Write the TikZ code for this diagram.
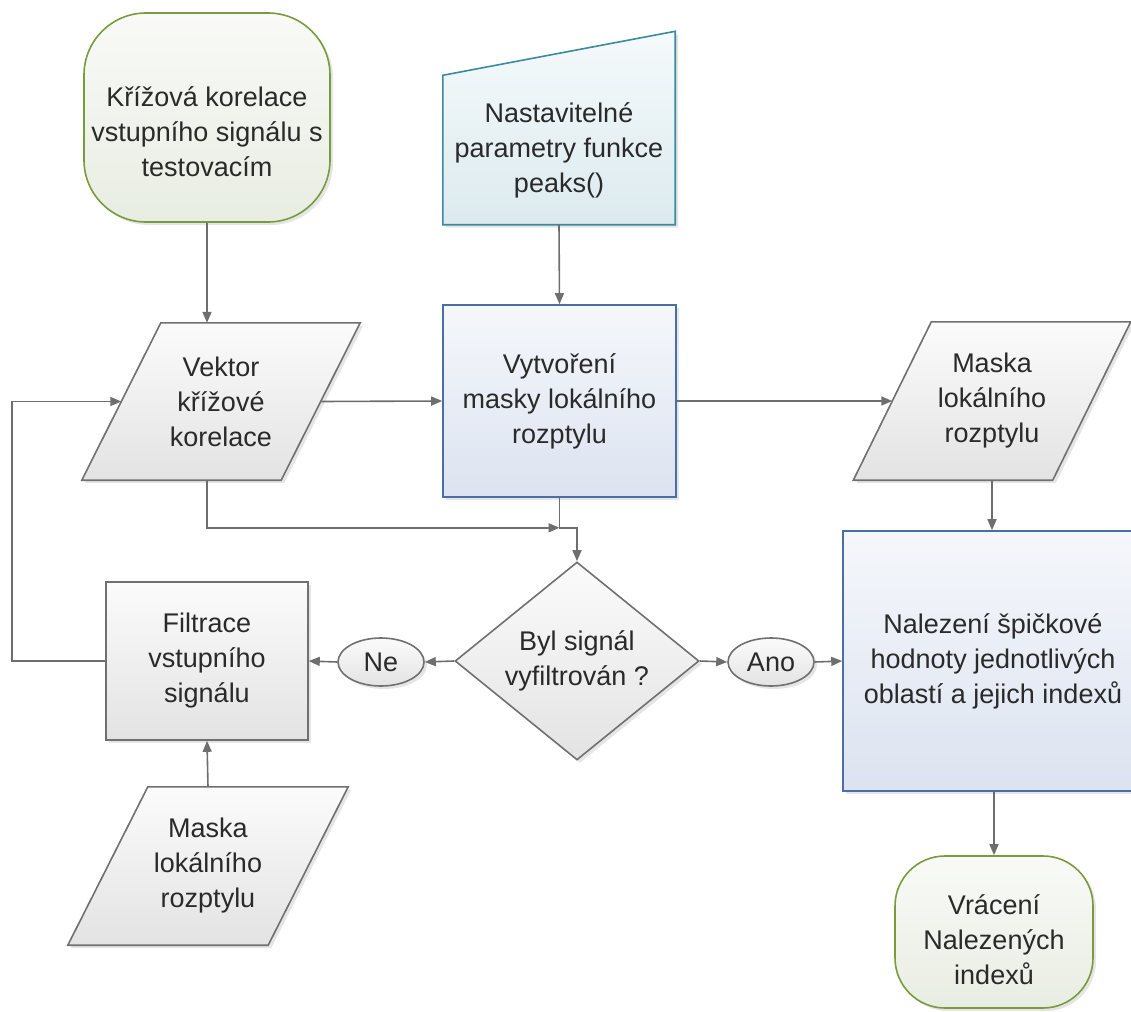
\documentclass[tikz,border=0pt]{standalone}
\usepackage{fontspec}
\setmainfont{Liberation Sans}
\usetikzlibrary{shapes.geometric,arrows.meta,shadows,calc,backgrounds}

\definecolor{linegray}{HTML}{6E6E6E}
\definecolor{txtgray}{HTML}{2A2A2A}
\definecolor{grayedge}{HTML}{707070}
\definecolor{graytop}{HTML}{FBFBFB}
\definecolor{graybot}{HTML}{E3E3E3}
\definecolor{blueedge}{HTML}{4A6FA5}
\definecolor{bluetop}{HTML}{F5F7FB}
\definecolor{bluebot}{HTML}{DCE3F0}
\definecolor{tealedge}{HTML}{3A8BA0}
\definecolor{tealtop}{HTML}{F5FAFB}
\definecolor{tealbot}{HTML}{DCEAEF}
\definecolor{greenedge}{HTML}{7A9A3E}
\definecolor{greentop}{HTML}{F9FAF7}
\definecolor{greenbot}{HTML}{E8EDE2}

\tikzset{
  txt/.style={align=center, text=txtgray, font=\fontsize{27pt}{35pt}\selectfont},
  softshadow/.style={drop shadow={shadow xshift=3pt, shadow yshift=-3pt, fill=black, opacity=0.10}},
  box/.style={txt, inner sep=0pt, line width=1.6pt, softshadow},
  graybox/.style={box, rectangle, draw=grayedge, top color=graytop, bottom color=graybot},
  bluebox/.style={box, rectangle, draw=blueedge, top color=bluetop, bottom color=bluebot},
  termbox/.style={box, rectangle, draw=greenedge, top color=greentop, bottom color=greenbot},
  termtext/.style={txt, inner sep=0pt},
  decision/.style={box, diamond, draw=grayedge, top color=graytop, bottom color=graybot},
  answer/.style={box, ellipse, draw=grayedge, top color=graytop, bottom color=graybot,
                 minimum width=86pt, minimum height=48pt},
  textonly/.style={txt, inner sep=0pt, rectangle},
  datafill/.style={draw=grayedge, line width=1.6pt, top color=graytop, bottom color=graybot, softshadow},
  inputfill/.style={draw=tealedge, line width=1.6pt, top color=tealtop, bottom color=tealbot, softshadow},
  conn/.style={draw=linegray, line width=1.6pt, -{Triangle[length=11pt,width=9pt]}},
}

% parallelogram (data) outline around a rectangular text node
\newcommand\datashape[2]{%
  \path[datafill] ($(#1.north west)+(#2,0)$) -- ($(#1.north east)+(#2,0)$)
    -- ($(#1.south east)+(-#2,0)$) -- ($(#1.south west)+(-#2,0)$) -- cycle;}

\begin{document}
\begin{tikzpicture}[x=1pt,y=-1pt]
\useasboundingbox (0,0) rectangle (1131,1011);

% terminals
\node[termbox, rounded corners=62pt, minimum width=246pt, minimum height=209pt,
      label={[termtext, yshift=-14pt]center:{Křížová korelace\\vstupního signálu s\\testovacím}}]
      (start) at (207,117.5) {};
\node[termbox, rounded corners=50pt, minimum width=198pt, minimum height=152pt,
      label={[termtext, yshift=-8pt]center:{Vrácení\\Nalezených\\indexů}}]
      (finish) at (994,932) {};

% manual input
\node[textonly, minimum width=232pt, minimum height=149pt] (params) at (559,150)
      {Nastavitelné\\parametry funkce\\peaks()};

% data (parallelograms)
\node[textonly, minimum width=199pt, minimum height=157pt] (vec) at (221,401.5)
      {Vektor\\křížové\\korelace};
\node[textonly, minimum width=199pt, minimum height=158pt] (maskA) at (992,401)
      {Maska\\lokálního\\rozptylu};
\node[textonly, minimum width=200pt, minimum height=158pt] (maskB) at (208,866)
      {Maska\\lokálního\\rozptylu};

% processes
\node[bluebox, minimum width=233pt, minimum height=192pt] (proc) at (559.5,401)
      {Vytvoření\\masky lokálního\\rozptylu};
\node[bluebox, minimum width=300pt, minimum height=260pt] (peak) at (993,661)
      {Nalezení špičkové\\hodnoty jednotlivých\\oblastí a jejich indexů};
\node[graybox, minimum width=202pt, minimum height=158pt] (filt) at (207,661)
      {Filtrace\\vstupního\\signálu};

% decision and answers
\node[decision, aspect=1.23, minimum width=244pt, minimum height=198pt] (dec) at (577,661)
      {Byl signál\\vyfiltrován ?};
\node[answer] (no) at (381,662) {Ne};
\node[answer] (yes) at (771,662) {Ano};

% outlines drawn behind the text nodes
\begin{scope}[on background layer]
  \datashape{vec}{39.5}
  \datashape{maskA}{39}
  \datashape{maskB}{40}
  \path[inputfill] (params.south west) -- (params.south east)
    -- ($(params.north east)+(0,-44)$) -- (params.north west) -- cycle;
\end{scope}

% connectors
\coordinate (join) at ($(proc.south)+(0,30)$);
\draw[conn] (start.south) -- (start.south |- vec.north);
\draw[conn] (params.south) -- (proc.north);
\draw[conn] (vec.east) -- (proc.west);
\draw[conn] (proc.east) -- (maskA.west);
\draw[conn] (maskA.south) -- (maskA.south |- peak.north);
\draw[conn] (start.south |- vec.south) |- (join);
\draw[conn] (proc.south) -- (join) -| (dec.north);
\draw[conn] (dec.west) -- (no.east);
\draw[conn] (no.west) -- (filt.east);
\draw[conn] (dec.east) -- (yes.west);
\draw[conn] (yes.east) -- (peak.west);
\draw[conn] (filt.west) -- ++(-93,0) |- (vec.west);
\draw[conn] (maskB.north) -- (filt.south);
\draw[conn] (finish.north |- peak.south) -- (finish.north);
\end{tikzpicture}
\end{document}
